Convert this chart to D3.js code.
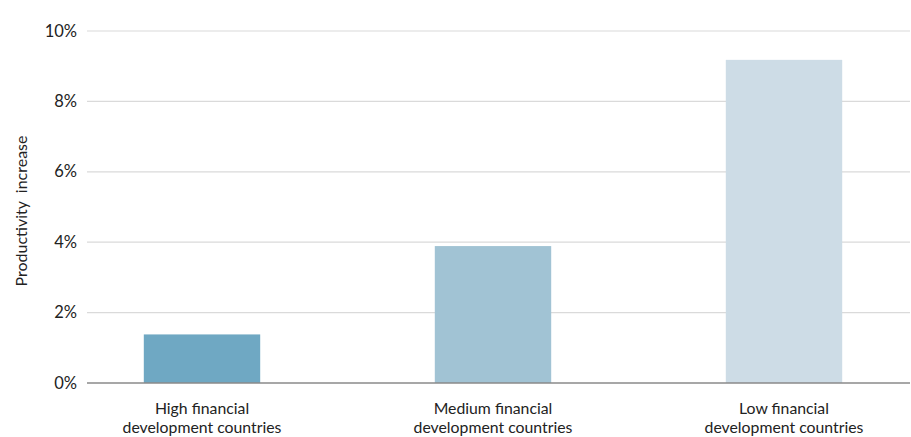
<!DOCTYPE html>
<html><head><meta charset="utf-8">
<script src="https://cdn.jsdelivr.net/npm/d3@7/dist/d3.min.js"></script>
<style>body{margin:0;background:#fff}svg{display:block}text{font-family:Lato,sans-serif}</style>
</head><body><svg id="c" width="911" height="437"></svg>
<script>
const categories = ["High financial\ndevelopment countries","Medium financial\ndevelopment countries","Low financial\ndevelopment countries"];
const values = [1.38, 3.89, 9.18];
const colors = ["#6fa8c3","#a1c3d4","#cddce6"];
const yTicks = [0,2,4,6,8,10];
const yTitle = "Productivity  increase";

const svg = d3.select("#c");
const pLeft = 87, pRight = 910, pTop = 31, pBottom = 383;
const y = d3.scaleLinear().domain([0,10]).range([pBottom, pTop]);
const x = d3.scaleBand().domain(categories).range([56.5, 929.5]).paddingInner(0.6).paddingOuter(0.3);

svg.append("g").selectAll("line").data(yTicks.filter(d=>d>0)).join("line")
  .attr("x1", pLeft).attr("x2", pRight).attr("y1", d=>y(d)).attr("y2", d=>y(d))
  .attr("stroke", "#dadada").attr("stroke-width", 1.2);

svg.append("g").selectAll("rect").data(values).join("rect")
  .attr("x", (d,i)=>x(categories[i])).attr("width", x.bandwidth())
  .attr("y", d=>y(d)).attr("height", d=>pBottom - y(d))
  .attr("fill", (d,i)=>colors[i]);

svg.append("line").attr("x1", pLeft).attr("x2", pRight).attr("y1", pBottom).attr("y2", pBottom)
  .attr("stroke", "#8a8a8a").attr("stroke-width", 1.3);

svg.append("g").selectAll("text").data(yTicks).join("text")
  .attr("x", 77).attr("y", d=>y(d)).attr("dy", 5.5)
  .attr("text-anchor", "end").attr("font-size", 16.5).attr("fill", "#222")
  .text(d=>d+"%");

svg.append("text").attr("transform", "translate(27,211) rotate(-90)")
  .attr("text-anchor", "middle").attr("font-size", 16).attr("fill", "#222")
  .style("white-space","pre").text(yTitle);

const xl = svg.append("g").selectAll("text").data(categories).join("text")
  .attr("x", d=>x(d)+x.bandwidth()/2).attr("y", 414)
  .attr("text-anchor", "middle").attr("font-size", 15.8).attr("fill", "#222");
xl.selectAll("tspan").data(d=>d.split("\n")).join("tspan")
  .attr("x", function(){return d3.select(this.parentNode).attr("x");})
  .attr("dy", (d,i)=>i?19:0).text(d=>d);
</script></body></html>
